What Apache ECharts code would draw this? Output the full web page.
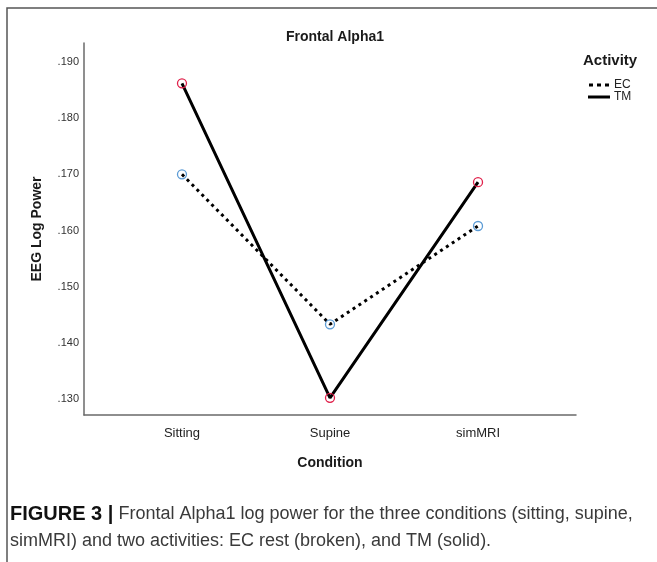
<!DOCTYPE html>
<html>
<head>
<meta charset="utf-8">
<script src="https://cdn.jsdelivr.net/npm/echarts@6/dist/echarts.min.js"></script>
<style>
html,body{margin:0;padding:0;background:#fff;}
#chart{width:657px;height:562px;}
</style>
</head>
<body>
<div id="chart"></div>
<script>
// ---- data ----
const conditions = ['Sitting', 'Supine', 'simMRI'];
const ecValues = [0.1700, 0.1433, 0.1608];
const tmValues = [0.1862, 0.1302, 0.1686];
const yTicks = [0.13, 0.14, 0.15, 0.16, 0.17, 0.18, 0.19];
const xTicks = [0, 1, 2];
const seriesNames = ['EC', 'TM'];

const FONT = '"Liberation Sans", Arial, sans-serif';

const chart = echarts.init(document.getElementById('chart'), null, {renderer: 'canvas'});

const toPairs = vals => vals.map((v, i) => [i, v]);

const option = {
  backgroundColor: '#ffffff',
  animation: false,
  textStyle: {fontFamily: FONT},
  title: [
    {
      text: 'Frontal Alpha1',
      left: 330, top: 25, textAlign: 'center',
      textStyle: {fontFamily: FONT, fontSize: 14, fontWeight: 'bold', color: '#1a1a1a'}
    },
    {
      text: 'Activity',
      left: 578, top: 48,
      textStyle: {fontFamily: FONT, fontSize: 15, fontWeight: 'bold', color: '#1a1a1a'}
    },
    {
      text: '{b|FIGURE 3 |} Frontal Alpha1 log power for the three conditions (sitting, supine,\nsimMRI) and two activities: EC rest (broken), and TM (solid).',
      left: 5, top: 496,
      textStyle: {
        fontFamily: FONT, fontSize: 18, fontWeight: 'normal', color: '#3a3a3a', lineHeight: 27,
        rich: {b: {fontFamily: FONT, fontSize: 20, fontWeight: 'bold', color: '#111', lineHeight: 27}}
      }
    }
  ],
  legend: {
    orient: 'vertical',
    left: 583, top: 74,
    itemWidth: 22, itemHeight: 3, itemGap: 0,
    textStyle: {fontFamily: FONT, fontSize: 12, color: '#222', padding: [0, 0, 0, -1]},
    data: [
      {name: 'EC', icon: 'path://M0,0h4v3h-4z M8,0h4v3h-4z M16,0h4v3h-4z', itemStyle: {color: '#000', borderWidth: 0}},
      {name: 'TM', icon: 'rect', itemStyle: {color: '#000', borderWidth: 0}}
    ]
  },
  grid: {left: 84, right: 81, top: 43, bottom: 147},
  xAxis: {
    type: 'value',
    min: -0.662, max: 2.662,
    name: 'Condition', nameLocation: 'middle', nameGap: 41,
    nameTextStyle: {fontFamily: FONT, fontSize: 14, fontWeight: 'bold', color: '#1a1a1a'},
    axisLine: {show: true, onZero: false, lineStyle: {color: '#6a6a6a', width: 1.5}},
    axisTick: {show: false},
    splitLine: {show: false},
    axisLabel: {
      customValues: xTicks,
      formatter: v => conditions[Math.round(v)],
      fontFamily: FONT, fontSize: 13, color: '#222', margin: 12
    }
  },
  yAxis: {
    type: 'value',
    min: 0.12715, max: 0.19338,
    name: 'EEG Log Power', nameLocation: 'middle', nameGap: 40,
    nameTextStyle: {fontFamily: FONT, fontSize: 14, fontWeight: 'bold', color: '#1a1a1a'},
    axisLine: {show: true, onZero: false, lineStyle: {color: '#6a6a6a', width: 1.5}},
    axisTick: {show: false},
    splitLine: {show: false},
    axisLabel: {
      customValues: yTicks,
      formatter: v => '.' + v.toFixed(3).split('.')[1],
      fontFamily: FONT, fontSize: 11, color: '#333', margin: 5
    }
  },
  series: [
    {
      name: seriesNames[0], type: 'line',
      data: toPairs(ecValues),
      symbol: 'circle', symbolSize: 9,
      lineStyle: {color: '#000', width: 3, type: [3, 4]},
      itemStyle: {color: 'rgba(0,0,0,0)', borderColor: '#5b9bd5', borderWidth: 1.3},
      emphasis: {disabled: true},
      z: 2
    },
    {
      name: seriesNames[1], type: 'line',
      data: toPairs(tmValues),
      symbol: 'circle', symbolSize: 9,
      lineStyle: {color: '#000', width: 3},
      itemStyle: {color: 'rgba(0,0,0,0)', borderColor: '#e0204a', borderWidth: 1.3},
      emphasis: {disabled: true},
      z: 3
    }
  ],
  graphic: [
    {
      type: 'rect', silent: true,
      shape: {x: 7, y: 8, width: 720, height: 620},
      style: {fill: 'none', stroke: '#555', lineWidth: 1.5}
    }
  ]
};

chart.setOption(option);
</script>
</body>
</html>
